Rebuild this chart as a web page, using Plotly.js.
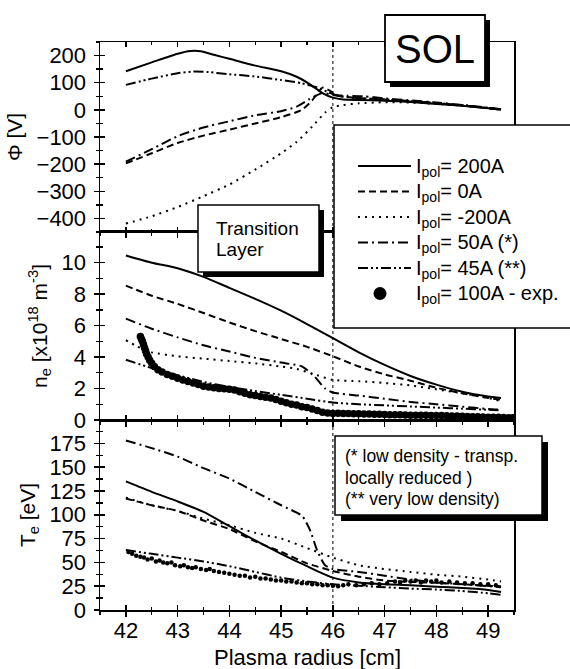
<!DOCTYPE html>
<html><head><meta charset="utf-8">
<script src="https://cdn.plot.ly/plotly-3.0.1.min.js"></script>
<style>html,body{margin:0;padding:0;background:#fff}</style>
</head><body><div id="chart" style="width:570px;height:669px"></div>
<script>
// ---------- DATA ----------
// Potential Phi [V]
const phi200X = [42, 42.5, 43, 43.25, 43.45, 43.7, 44, 44.5, 45, 45.3, 45.55, 45.8, 46, 46.2, 46.5, 47, 47.5, 48, 48.5, 49, 49.25];
const phi200Y = [142, 175, 207, 217, 216, 203, 188, 163, 142, 122, 95, 62, 45, 38, 36, 34, 29, 22, 15, 6, 0];
const phi0X = [42, 42.5, 43, 43.5, 44, 44.5, 45, 45.4, 45.6, 45.8, 45.95, 46.1, 46.4, 47, 47.5, 48, 48.5, 49, 49.25];
const phi0Y = [-197, -160, -122, -95, -73, -50, -27, 0, 35, 82, 70, 52, 45, 38, 32, 24, 16, 6, 1];
const phiM200X = [42, 42.5, 43, 43.5, 44, 44.5, 45, 45.3, 45.6, 45.85, 46, 46.2, 46.5, 47, 47.5, 48, 48.5, 49, 49.25];
const phiM200Y = [-419, -392, -358, -318, -275, -220, -160, -118, -62, -10, 10, 18, 24, 28, 27, 22, 15, 6, 1];
const phi50X = [42, 42.5, 43, 43.5, 44, 44.5, 45, 45.3, 45.55, 45.8, 46, 46.3, 46.6, 47, 47.5, 48, 48.5, 49, 49.25];
const phi50Y = [-191, -145, -97, -65, -42, -20, -5, 12, 40, 62, 55, 52, 50, 42, 35, 27, 18, 8, 2];
const phi45X = [42, 42.5, 43, 43.3, 43.6, 44, 44.5, 45, 45.4, 45.7, 45.9, 46.1, 46.4, 47, 47.5, 48, 48.5, 49, 49.25];
const phi45Y = [92, 115, 135, 141, 139, 131, 123, 110, 98, 82, 66, 52, 45, 38, 32, 25, 17, 7, 1];

// Density n_e [1e18 m^-3]
const neX = [42, 42.5, 43, 43.5, 44, 44.5, 45, 45.5, 46, 46.5, 47, 47.5, 48, 48.5, 49, 49.25];
const ne200Y = [10.46, 10.0, 9.65, 9.1, 8.4, 7.7, 6.95, 6.1, 5.2, 4.3, 3.5, 2.8, 2.25, 1.8, 1.5, 1.4];
const ne0Y = [8.54, 7.9, 7.38, 6.8, 6.2, 5.65, 5.15, 4.65, 4.05, 3.4, 2.9, 2.5, 2.05, 1.7, 1.4, 1.3];
const ne45Y = [3.83, 3.3, 2.85, 2.42, 2.1, 1.84, 1.6, 1.35, 1.11, 1.0, 0.93, 0.86, 0.79, 0.72, 0.65, 0.62];
const neM200X = [42, 42.2, 42.5, 43, 43.5, 44, 44.5, 45, 45.3, 45.6, 46, 46.5, 47, 47.5, 48, 48.5, 49, 49.25];
const neM200Y = [5.08, 4.7, 4.3, 4.05, 3.9, 3.75, 3.6, 3.4, 3.25, 2.95, 2.55, 2.47, 2.35, 2.2, 1.95, 1.7, 1.4, 1.2];
const ne50X = [42, 42.5, 43, 43.5, 44, 44.5, 45, 45.4, 45.65, 45.85, 46, 46.5, 47, 47.5, 48, 48.5, 49, 49.25];
const ne50Y = [6.44, 5.8, 5.25, 4.75, 4.35, 3.95, 3.65, 3.41, 2.75, 2.0, 1.75, 1.55, 1.35, 1.15, 1.0, 0.85, 0.7, 0.65];
const neExpX = [42.28, 42.30, 42.32, 42.34, 42.36, 42.38, 42.40, 42.43, 42.46, 42.50, 42.55, 42.62, 42.70, 42.80, 42.90, 43.00, 43.10, 43.20, 43.30, 43.40, 43.50, 43.60, 43.70, 43.80, 43.90, 44.00, 44.10, 44.20, 44.30, 44.40, 44.50, 44.60, 44.70, 44.80, 44.90, 45.00, 45.10, 45.20, 45.30, 45.40, 45.50, 45.60, 45.70, 45.80, 45.90, 46.00, 46.10, 46.20, 46.30, 46.40, 46.50, 46.60, 46.70, 46.80, 46.90, 47.00, 47.10, 47.20, 47.30, 47.40, 47.50, 47.60, 47.70, 47.80, 47.90, 48.00, 48.10, 48.20, 48.30, 48.40, 48.50, 48.60, 48.70, 48.80, 48.90, 49.00, 49.10, 49.20, 49.30, 49.40, 49.48];
const neExpY = [5.3, 5.15, 5.0, 4.8, 4.6, 4.4, 4.2, 4.0, 3.8, 3.6, 3.4, 3.2, 3.05, 2.9, 2.78, 2.65, 2.55, 2.45, 2.35, 2.25, 2.15, 2.1, 2.05, 2.0, 1.98, 1.95, 1.9, 1.8, 1.7, 1.6, 1.55, 1.5, 1.45, 1.4, 1.3, 1.2, 1.1, 1.0, 0.95, 0.85, 0.8, 0.7, 0.6, 0.5, 0.45, 0.42, 0.43, 0.41, 0.42, 0.40, 0.39, 0.38, 0.38, 0.37, 0.36, 0.35, 0.34, 0.33, 0.33, 0.32, 0.31, 0.30, 0.30, 0.30, 0.29, 0.28, 0.28, 0.27, 0.26, 0.25, 0.24, 0.22, 0.21, 0.20, 0.19, 0.18, 0.18, 0.17, 0.16, 0.15, 0.15];

// Temperature T_e [eV]
const teX = [42, 42.5, 43, 43.5, 44, 44.5, 45, 45.5, 46, 46.5, 47, 47.5, 48, 48.5, 49, 49.25];
const te200Y = [135, 124, 114, 103, 88, 73, 59, 46, 34, 29, 27, 26, 24.5, 23, 21, 19];
const te0Y = [117, 110, 104, 94, 85, 72, 61, 49, 41, 35, 31, 29.5, 28.5, 27, 25.5, 25];
const teM200Y = [118, 110, 104, 96, 89, 81, 75, 65, 55, 47, 43, 40, 37, 35, 32, 30];
const te45Y = [63, 59, 55, 51, 46, 40, 34, 30, 27, 25.5, 24, 22.5, 21.5, 20, 17.5, 16];
const te50X = [42, 42.5, 43, 43.5, 44, 44.5, 45, 45.4, 45.55, 45.7, 45.85, 46, 46.5, 47, 47.5, 48, 48.5, 49, 49.25];
const te50Y = [178, 170, 161, 149, 138, 124, 110, 99, 85, 62, 47, 43, 40, 36, 32, 29, 27, 25, 24];
const teExpX = [42.05, 42.12, 42.2, 42.28, 42.35, 42.42, 42.5, 42.58, 42.65, 42.72, 42.8, 42.88, 42.95, 43.05, 43.12, 43.2, 43.28, 43.35, 43.45, 43.55, 43.62, 43.7, 43.8, 43.9, 44.0, 44.1, 44.2, 44.3, 44.4, 44.5, 44.6, 44.7, 44.8, 44.9, 45.0, 45.1, 45.2, 45.3, 45.4, 45.5, 45.6, 45.7, 45.8, 45.9, 46.0, 46.1, 46.2, 46.3, 46.45, 46.6, 46.75, 46.9, 47.05, 47.2, 47.3, 47.4, 47.5, 47.6, 47.7, 47.8, 47.9, 48.0, 48.1, 48.25, 48.4, 48.55, 48.7, 48.85, 49.0, 49.15];
const teExpY = [61, 59, 57, 56, 55, 53, 54, 51, 52, 50, 49, 50, 47, 46, 47, 45, 44, 45, 43, 42, 43, 41, 40, 39, 38, 37, 36, 36, 34, 35, 33, 33, 32, 31, 31, 30, 30, 29, 28, 28, 27, 27, 26, 26, 25.5, 25, 26, 27, 26, 27, 28, 27, 28, 30, 29, 31, 30, 31, 29, 31, 30, 31, 29, 30, 29, 28, 28, 27, 27, 26];

const seriesNames = ['I<sub>pol</sub>= 200A', 'I<sub>pol</sub>= 0A', 'I<sub>pol</sub>= -200A', 'I<sub>pol</sub>= 50A (*)', 'I<sub>pol</sub>= 45A (**)', 'I<sub>pol</sub>= 100A - exp.'];
const noteLines = ['(* low density - transp.', 'locally reduced )', '(** very low density)'];
const xTitle = 'Plasma radius [cm]';

// ---------- STYLE ----------
const FONT = 'Liberation Sans, Arial, Helvetica, sans-serif';
const dashes = ['solid', '7px,4px', '2px,5px', '10px,4px,2px,4px', '10px,3px,2px,3px,2px,3px'];
const LW = 2;
const PW = 414, PH = 568, ML = 100, MT = 42;
function px2x(p) { return (p - ML) / PW; }
function px2y(p) { return (MT + PH - p) / PH; }

function lineTrace(x, y, k, xa, ya) {
  return {x: x, y: y, xaxis: xa, yaxis: ya, mode: 'lines', name: seriesNames[k], showlegend: false,
    line: {color: '#000', width: LW, dash: dashes[k], shape: 'spline', smoothing: 0.6}, hoverinfo: 'skip'};
}
function expTrace(x, y, xa, ya, size) {
  return {x: x, y: y, xaxis: xa, yaxis: ya, mode: 'markers', name: seriesNames[5], showlegend: false,
    marker: {color: '#000', size: size, symbol: 'circle'}, hoverinfo: 'skip'};
}

const traces = [
  lineTrace(phi200X, phi200Y, 0, 'x', 'y'),
  lineTrace(phi0X, phi0Y, 1, 'x', 'y'),
  lineTrace(phiM200X, phiM200Y, 2, 'x', 'y'),
  lineTrace(phi50X, phi50Y, 3, 'x', 'y'),
  lineTrace(phi45X, phi45Y, 4, 'x', 'y'),
  lineTrace(neX, ne200Y, 0, 'x2', 'y2'),
  lineTrace(neX, ne0Y, 1, 'x2', 'y2'),
  lineTrace(neM200X, neM200Y, 2, 'x2', 'y2'),
  lineTrace(ne50X, ne50Y, 3, 'x2', 'y2'),
  lineTrace(neX, ne45Y, 4, 'x2', 'y2'),
  expTrace(neExpX, neExpY, 'x2', 'y2', 7.5),
  lineTrace(teX, te200Y, 0, 'x3', 'y3'),
  lineTrace(teX, te0Y, 1, 'x3', 'y3'),
  lineTrace(teX, teM200Y, 2, 'x3', 'y3'),
  lineTrace(te50X, te50Y, 3, 'x3', 'y3'),
  lineTrace(teX, te45Y, 4, 'x3', 'y3'),
  expTrace(teExpX, teExpY, 'x3', 'y3', 4.5)
];
// invisible helper traces so the tick-overlay axes get drawn (crossing ticks)
[['x4','y'],['x5','y2'],['x6','y3'],['x','y4'],['x2','y5'],['x3','y6']].forEach(function(p){
  traces.push({x: [null], y: [null], xaxis: p[0], yaxis: p[1], mode: 'markers', showlegend: false, hoverinfo: 'skip'});
});

const XR = [41.5, 49.5];
const D = {top: [0.6655, 1], mid: [0.3345, 0.6655], bot: [0, 0.3345]};
const tickFont = {family: FONT, size: 22, color: '#000'};

function mainX(anchor, labels, extra) {
  return Object.assign({range: XR, anchor: anchor, showline: true, linecolor: '#000', linewidth: 1.5, mirror: true,
    ticks: 'outside', ticklen: 5, tickwidth: 1.5, tickcolor: '#000', dtick: 1, tick0: 42,
    minor: {ticks: 'outside', dtick: 0.5, ticklen: 3, tickwidth: 1.3, tickcolor: '#000'},
    showgrid: false, zeroline: false, showticklabels: labels, tickfont: tickFont, ticklabelstandoff: -5, fixedrange: true}, extra || {});
}
function ovX(over, anchor, mirrorTicks) {
  return {range: XR, overlaying: over, anchor: anchor, showline: true, linecolor: '#000', linewidth: 1.5,
    mirror: mirrorTicks ? 'ticks' : false, ticks: 'inside', ticklen: 5, tickwidth: 1.5, tickcolor: '#000', dtick: 1, tick0: 42,
    minor: {ticks: 'inside', dtick: 0.5, ticklen: 3, tickwidth: 1.3, tickcolor: '#000'},
    showgrid: false, zeroline: false, showticklabels: false, fixedrange: true};
}
function mainY(anchor, dom, range, dtick, mdtick, title, extra) {
  return Object.assign({domain: dom, range: range, anchor: anchor, showline: true, linecolor: '#000', linewidth: 1.5, mirror: true,
    ticks: 'outside', ticklen: 5, tickwidth: 1.5, tickcolor: '#000', dtick: dtick, tick0: 0,
    minor: {ticks: 'outside', dtick: mdtick, ticklen: 3, tickwidth: 1.3, tickcolor: '#000'},
    showgrid: false, zeroline: false, tickfont: tickFont, ticklabelstandoff: 3,
    title: {text: title, font: {family: FONT, size: 21, color: '#000'}, standoff: 8}, fixedrange: true}, extra || {});
}
function ovY(over, anchor, range, dtick, mdtick) {
  return {range: range, overlaying: over, anchor: anchor, showline: false,
    ticks: 'inside', ticklen: 5, tickwidth: 1.5, tickcolor: '#000', dtick: dtick, tick0: 0,
    minor: {ticks: 'inside', dtick: mdtick, ticklen: 3, tickwidth: 1.3, tickcolor: '#000'},
    showgrid: false, zeroline: false, showticklabels: false, fixedrange: true};
}

const RY1 = [-450, 250], RY2 = [0, 11.95], RY3 = [0, 199.5];

function pbox(x0, x1, y0, y1, lw) {
  return {type: 'rect', xref: 'paper', yref: 'paper', x0: px2x(x0), x1: px2x(x1), y0: px2y(y1), y1: px2y(y0),
    fillcolor: '#fff', line: {color: '#000', width: lw || 1.5}, layer: 'above'};
}
function pshadow(x0, x1, y0, y1, d) {
  return {type: 'rect', xref: 'paper', yref: 'paper', x0: px2x(x0 + d), x1: px2x(x1 + d), y0: px2y(y1 + d), y1: px2y(y0 + d),
    fillcolor: '#000', line: {width: 0}, layer: 'above'};
}

// legend geometry (pixels)
const legRows = [166, 191.5, 217, 242.5, 268, 293.5];
const legX0 = 358, legX1 = 411, legTextX = 414;

const shapes = [
  {type: 'line', xref: 'x', yref: 'paper', x0: 46, x1: 46, y0: 0, y1: 1, line: {color: '#000', width: 1, dash: 'dot'}, layer: 'above'},
  pshadow(385, 485, 15, 82, 5), pbox(385, 485, 15, 82, 1.8),
  pshadow(198, 319, 205, 272, 5), pbox(198, 319, 205, 272, 1.5),
  pshadow(335, 542, 436, 515, 6), pbox(335, 542, 436, 515, 1.5),
  pbox(334, 580, 125, 328, 1.5)
];
// legend samples
for (let k = 0; k < 5; k++) {
  shapes.push({type: 'line', xref: 'paper', yref: 'paper', x0: px2x(legX0), x1: px2x(legX1), y0: px2y(legRows[k]), y1: px2y(legRows[k]),
    line: {color: '#000', width: LW, dash: dashes[k]}, layer: 'above'});
}
shapes.push({type: 'circle', xref: 'paper', yref: 'paper', x0: px2x(380 - 6.5), x1: px2x(380 + 6.5), y0: px2y(legRows[5] + 6.5), y1: px2y(legRows[5] - 6.5),
  fillcolor: '#000', line: {color: '#000', width: 0}, layer: 'above'});

function ann(text, xp, yp, size, xanchor) {
  return {text: text, xref: 'paper', yref: 'paper', x: px2x(xp), y: px2y(yp), xanchor: xanchor || 'left', yanchor: 'middle',
    showarrow: false, font: {family: FONT, size: size, color: '#000'}, align: 'left'};
}
const annotations = [
  ann('SOL', 435, 48.5, 40, 'center'),
  ann('Transition', 214, 228, 19),
  ann('Layer', 214, 250, 19),
  ann(noteLines[0], 343, 456, 17.5),
  ann(noteLines[1], 343, 477.5, 17.5),
  ann(noteLines[2], 343, 499, 17.5),
  ann(xTitle, 307, 657, 22, 'center')
];
for (let k = 0; k < 6; k++) annotations.push(ann(seriesNames[k], legTextX, legRows[k] + 1, 20));

const layout = {
  width: 570, height: 669,
  margin: {l: 100, r: 56, t: 42, b: 59, pad: 0},
  paper_bgcolor: '#fff', plot_bgcolor: 'rgba(0,0,0,0)',
  font: {family: FONT, color: '#000'},
  showlegend: false,
  xaxis: mainX('y', false),
  xaxis2: mainX('y2', false),
  xaxis3: mainX('y3', true),
  xaxis4: ovX('x', 'y', true),
  xaxis5: ovX('x2', 'y2', false),
  xaxis6: ovX('x3', 'y3', false),
  yaxis: mainY('x', D.top, RY1, 100, 50, 'Φ [V]'),
  yaxis2: mainY('x2', D.mid, RY2, 2, 1, 'n<sub>e</sub> [x10<sup>18</sup> m<sup>-3</sup>]'),
  yaxis3: mainY('x3', D.bot, RY3, 25, 12.5, 'T<sub>e</sub> [eV]'),
  yaxis4: ovY('y', 'x', RY1, 100, 50),
  yaxis5: ovY('y2', 'x2', RY2, 2, 1),
  yaxis6: ovY('y3', 'x3', RY3, 25, 12.5),
  shapes: shapes,
  annotations: annotations
};

Plotly.newPlot('chart', traces, layout, {displayModeBar: false, staticPlot: true});
</script></body></html>
